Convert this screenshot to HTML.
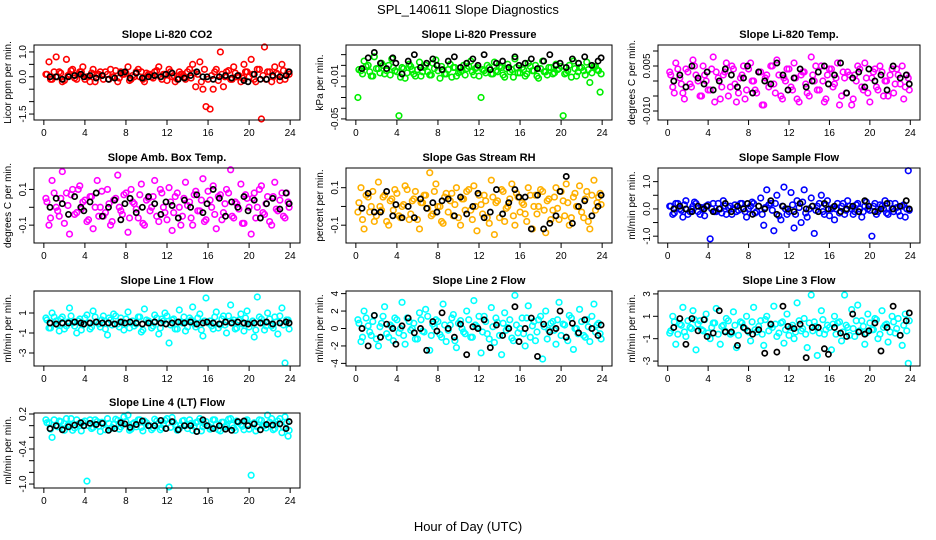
<!DOCTYPE html>
<html><head><meta charset="utf-8"><style>
html,body{margin:0;padding:0;background:#fff;}
svg{display:block;font-family:"Liberation Sans",sans-serif;}
</style></head><body>
<svg id="chart" width="936" height="540" viewBox="0 0 936 540" xmlns="http://www.w3.org/2000/svg">
<rect width="936" height="540" fill="#fff"/>
<text x="468" y="14" text-anchor="middle" font-size="13">SPL_140611  Slope Diagnostics</text>
<text x="468" y="531" text-anchor="middle" font-size="13">Hour of Day (UTC)</text>
</svg>
<script>
const hoursColor=[0.2,0.5,0.8,1.2,1.5,1.8,2.2,2.5,2.8,3.2,3.5,3.8,4.2,4.5,4.8,5.2,5.5,5.8,6.2,6.5,6.8,7.2,7.5,7.8,8.2,8.5,8.8,9.2,9.5,9.8,10.2,10.5,10.8,11.2,11.5,11.8,12.2,12.5,12.8,13.2,13.5,13.8,14.2,14.5,14.8,15.2,15.5,15.8,16.2,16.5,16.8,17.2,17.5,17.8,18.2,18.5,18.8,19.2,19.5,19.8,20.2,20.5,20.8,21.2,21.5,21.8,22.2,22.5,22.8,23.2,23.5,23.8];
const hoursBand=[0.3,0.65,1.0,1.35,1.65,2.0,2.35,2.65,3.0,3.35,3.65,4.0,4.35,4.65,5.0,5.35,5.65,6.0,6.35,6.65,7.0,7.35,7.65,8.0,8.35,8.65,9.0,9.35,9.65,10.0,10.35,10.65,11.0,11.35,11.65,12.0,12.35,12.65,13.0,13.35,13.65,14.0,14.35,14.65,15.0,15.35,15.65,16.0,16.35,16.65,17.0,17.35,17.65,18.0,18.35,18.65,19.0,19.35,19.65,20.0,20.35,20.65,21.0,21.35,21.65,22.0,22.35,22.65,23.0,23.35,23.65,23.9];
const hoursBlack=[0.6,1.2,1.8,2.4,3.0,3.6,3.9,4.5,5.1,5.7,6.3,6.9,7.5,7.9,8.4,9.0,9.6,10.2,10.8,11.4,11.9,12.5,13.1,13.7,14.3,14.9,15.5,15.9,16.5,17.1,17.7,18.3,18.9,19.5,19.9,20.5,21.1,21.7,22.3,23.0,23.6,23.9];
const xTicks=[0,4,8,12,16,20,24];

const co2Color=[0.1,0.6,-0.1,0.8,0.2,-0.2,0.7,0.1,0.3,-0.1,0.2,0.4,0.0,-0.2,0.3,0.1,0.2,-0.1,0.1,0.3,0.0,-0.2,0.2,0.1,0.4,-0.1,0.0,0.3,0.2,-0.2,0.1,0.0,0.2,0.4,-0.1,0.1,0.3,0.0,-0.2,0.2,0.1,-0.1,0.3,0.5,-0.4,0.6,-0.5,-1.2,-1.3,-0.5,0.3,1.0,-0.4,0.2,-0.1,0.4,0.0,-0.2,0.5,0.2,0.7,-0.1,0.3,-1.7,1.2,0.2,-0.2,0.4,0.1,0.5,-0.1,0.2];
const co2Band=[0.1,-0.1,0.2,0.0,0.15,-0.15,0.05,0.25,-0.05,0.1,0.2,-0.1,0.0,0.15,-0.2,0.1,0.05,0.2,-0.1,0.0,0.25,-0.05,0.1,0.15,-0.15,0.05,0.2,0.0,-0.1,0.15,0.1,-0.05,0.25,0.0,0.1,-0.15,0.2,0.05,-0.1,0.1,0.0,0.2,-0.05,0.15,0.1,-0.2,0.3,-0.1,0.05,0.2,-0.15,0.1,0.0,0.25,-0.1,0.15,0.05,-0.05,0.2,0.0,0.1,-0.2,0.3,0.05,-0.1,0.2,0.0,0.15,-0.15,0.25,0.05,0.1];
const co2Black=[0.0,0.0,-0.1,0.0,0.05,0.1,0.0,0.05,-0.05,0.05,-0.1,-0.05,0.15,0.2,-0.05,0.15,-0.05,0.0,0.05,0.0,0.1,0.15,-0.1,-0.05,0.05,0.2,0.0,0.0,-0.1,0.0,0.05,-0.05,0.05,-0.15,-0.2,0.1,-0.1,-0.1,0.05,0.0,0.05,0.2];
const presColor=[-0.03,-0.005,0.004,0.0,-0.01,0.008,-0.003,0.002,-0.008,0.0,0.006,-0.005,-0.047,-0.002,-0.012,0.001,-0.004,-0.01,0.003,-0.006,0.0,-0.009,0.002,0.005,-0.012,-0.004,-0.008,0.001,-0.002,-0.01,-0.006,0.0,-0.003,0.004,-0.009,-0.002,-0.03,-0.005,0.0,-0.008,0.003,-0.006,-0.002,-0.011,0.001,-0.004,0.006,-0.007,-0.002,-0.01,0.002,-0.005,0.0,-0.012,0.004,-0.006,-0.002,-0.008,0.001,-0.003,-0.047,-0.007,0.0,0.004,-0.01,-0.002,-0.005,0.003,-0.016,-0.001,-0.004,-0.025];
const presBand=[-0.004,-0.008,-0.001,-0.006,-0.01,-0.003,-0.007,0.0,-0.005,-0.009,-0.002,-0.006,-0.011,-0.003,-0.007,-0.001,-0.008,-0.004,-0.01,-0.002,-0.006,-0.009,-0.003,-0.005,-0.001,-0.008,-0.004,-0.011,-0.002,-0.007,-0.005,-0.009,-0.001,-0.006,-0.003,-0.01,-0.004,-0.007,-0.002,-0.008,-0.005,-0.001,-0.009,-0.003,-0.006,-0.011,-0.002,-0.007,-0.004,-0.008,-0.001,-0.005,-0.01,-0.003,-0.006,-0.009,-0.002,-0.007,-0.004,-0.001,-0.008,-0.005,-0.011,-0.003,-0.006,-0.002,-0.009,-0.004,-0.007,-0.001,-0.005,-0.008];
const presBlack=[-0.003,0.007,0.012,0.002,-0.003,0.007,0.002,-0.008,0.004,0.01,-0.002,0.002,0.006,0.0,-0.004,0.004,0.008,-0.002,0.002,0.006,0.0,0.01,-0.004,0.002,0.004,-0.002,0.008,0.0,0.002,0.006,-0.003,0.004,0.01,0.0,0.002,-0.002,0.006,0.002,0.008,0.0,0.004,0.007];
const tempColor=[0.003,-0.002,0.006,0.001,-0.004,0.004,-0.001,0.007,0.002,-0.005,0.005,0.0,-0.003,0.008,0.003,-0.006,0.002,0.006,-0.002,0.004,-0.007,0.001,0.005,-0.003,0.006,0.0,-0.004,0.003,-0.008,0.002,0.005,-0.001,0.007,-0.005,0.001,0.004,-0.002,0.006,-0.006,0.002,0.003,-0.004,0.008,0.0,-0.003,0.005,-0.007,0.002,0.004,-0.001,0.006,-0.005,0.001,0.003,-0.008,0.002,0.005,-0.002,0.006,-0.004,0.001,0.004,-0.003,0.003,0.0,-0.005,0.004,-0.001,0.002,0.005,-0.002,0.001];
const tempBand=[0.002,-0.004,0.004,-0.001,-0.006,0.003,-0.002,0.005,0.0,-0.005,0.002,-0.003,0.004,-0.007,0.001,-0.002,0.003,-0.005,0.005,-0.001,-0.004,0.002,-0.006,0.004,0.0,-0.003,0.003,-0.008,0.001,-0.002,0.005,-0.004,0.002,-0.006,0.0,0.004,-0.003,0.001,-0.007,0.003,-0.001,-0.005,0.002,0.005,-0.003,0.0,-0.006,0.004,-0.002,0.001,-0.008,0.003,-0.004,0.002,-0.006,0.0,0.004,-0.003,0.001,-0.007,0.003,-0.002,0.005,-0.005,0.0,0.002,-0.004,0.004,-0.001,-0.006,0.002,-0.003];
const tempBlack=[0.0,0.002,-0.002,0.005,0.001,-0.001,0.003,-0.003,0.0,0.004,0.002,-0.002,0.001,0.005,-0.004,0.003,0.0,-0.001,0.006,0.002,-0.003,0.001,0.004,-0.002,0.0,0.003,0.005,-0.001,0.002,0.006,-0.004,0.001,0.003,-0.002,0.004,0.0,0.002,-0.003,0.005,0.001,0.002,-0.001];
const ambColor=[0.05,-0.1,0.15,0.0,-0.05,0.2,0.08,-0.15,0.1,-0.03,0.12,0.03,-0.08,0.06,-0.12,0.15,0.0,-0.05,0.1,-0.1,0.04,0.18,-0.02,0.07,-0.14,0.1,0.02,-0.06,0.13,-0.1,0.05,0.0,0.15,-0.08,0.08,-0.03,0.11,-0.13,0.06,0.0,-0.05,0.14,0.03,-0.1,0.09,-0.02,0.16,-0.07,0.04,0.12,-0.12,0.07,-0.03,0.1,0.21,-0.06,0.02,0.13,-0.09,0.05,-0.15,0.08,0.0,0.12,-0.04,0.06,-0.1,0.14,-0.02,0.08,-0.06,0.03];
const ambBand=[0.03,-0.06,0.08,-0.02,0.05,-0.09,0.01,0.07,-0.04,0.1,-0.01,0.04,-0.07,0.06,0.0,-0.05,0.09,-0.03,0.02,-0.08,0.05,0.0,-0.04,0.08,-0.06,0.03,-0.01,0.07,-0.09,0.04,-0.02,0.06,-0.05,0.1,0.0,-0.07,0.03,-0.03,0.08,-0.1,0.05,0.01,-0.06,0.07,-0.02,0.04,-0.08,0.09,0.0,-0.04,0.06,-0.07,0.02,0.08,-0.05,0.03,-0.01,-0.09,0.07,0.0,0.05,-0.06,0.1,-0.03,0.02,-0.08,0.06,-0.01,0.04,-0.05,0.08,0.0];
const ambBlack=[0.0,0.05,0.02,-0.04,0.06,0.0,-0.02,0.03,0.08,-0.05,0.0,0.04,-0.07,0.02,0.05,-0.03,0.0,0.06,0.02,-0.04,0.03,0.01,-0.06,0.04,0.0,0.07,-0.03,0.02,0.1,0.05,-0.05,0.03,0.0,0.06,-0.02,0.04,-0.06,0.02,0.05,-0.01,0.08,0.02];
const rhColor=[-0.03,0.1,-0.12,0.05,0.0,-0.08,0.13,-0.02,0.06,-0.1,0.04,0.09,-0.05,0.0,0.11,-0.07,0.03,0.08,-0.12,0.02,0.06,0.18,-0.04,0.12,0.0,-0.09,0.07,0.03,-0.05,0.1,-0.1,0.04,0.08,-0.02,0.11,-0.13,0.01,0.06,-0.06,0.14,-0.15,0.03,0.09,-0.08,0.0,0.12,-0.1,0.05,0.02,-0.04,0.1,-0.12,0.06,0.0,0.08,-0.14,0.04,-0.02,0.1,-0.07,0.03,0.12,-0.1,0.05,0.0,0.11,-0.06,0.08,-0.12,0.14,0.02,0.07];
const rhBand=[0.02,-0.07,0.06,-0.03,0.08,-0.05,0.0,0.05,-0.08,0.03,-0.02,0.07,-0.06,0.01,0.09,-0.04,0.04,-0.07,0.02,0.06,-0.01,-0.05,0.08,0.0,-0.08,0.05,-0.03,0.07,0.01,-0.06,0.04,-0.02,0.09,-0.07,0.0,0.06,-0.04,0.03,-0.09,0.05,0.02,-0.06,0.08,-0.01,0.04,-0.05,0.07,-0.03,0.01,-0.08,0.06,0.0,-0.04,0.09,-0.02,0.03,-0.07,0.05,-0.01,0.08,-0.05,0.02,-0.06,0.07,0.0,-0.03,0.04,-0.08,0.06,-0.02,0.05,0.01];
const rhBlack=[-0.01,0.07,-0.03,-0.03,0.08,-0.05,0.01,-0.06,0.0,-0.06,0.04,-0.01,0.02,-0.03,0.03,0.04,-0.05,0.05,-0.04,0.0,0.07,-0.06,-0.03,0.09,-0.04,0.02,0.09,0.05,0.05,-0.12,0.06,-0.12,-0.09,-0.05,0.08,0.16,-0.09,0.0,0.03,-0.05,0.0,0.06];
const sampColor=[0.1,-0.2,0.2,0.0,-0.3,0.3,-0.1,0.1,0.2,-0.2,0.0,0.1,-1.1,0.2,-0.1,0.0,0.3,-0.2,0.1,0.0,-0.1,0.2,0.0,-0.3,0.1,0.2,-0.1,0.4,-0.6,0.7,0.2,-0.8,0.5,-0.4,0.8,-0.2,0.6,-0.7,0.3,-0.5,0.7,-0.3,0.4,-0.9,0.1,0.5,-0.2,0.3,0.0,-0.4,0.2,0.1,-0.2,0.3,0.0,-0.1,0.2,-0.3,0.1,0.0,-1.0,0.2,-0.1,0.1,0.3,-0.2,0.0,0.2,-0.1,0.1,-0.3,1.4];
const sampBand=[0.1,-0.15,0.2,-0.05,0.15,-0.2,0.0,0.25,-0.1,0.05,-0.25,0.15,0.0,-0.1,0.2,-0.15,0.1,0.05,-0.2,0.15,-0.05,0.2,-0.1,0.0,0.25,-0.15,0.1,-0.2,0.05,0.15,-0.05,0.2,-0.25,0.1,0.0,-0.1,0.15,-0.2,0.05,0.25,-0.15,0.0,0.1,-0.05,0.2,-0.1,0.15,-0.25,0.05,0.0,-0.15,0.2,-0.05,0.1,-0.2,0.15,0.0,-0.1,0.25,-0.05,0.1,-0.2,0.15,0.0,-0.15,0.2,-0.1,0.05,-0.25,0.15,0.0,-0.05];
const sampBlack=[0.0,0.1,0.0,-0.1,0.1,0.0,0.1,-0.1,0.0,0.2,-0.1,0.1,0.0,0.2,-0.2,0.1,0.0,0.3,-0.2,0.1,0.0,-0.1,0.2,0.0,0.1,-0.1,0.2,0.0,0.1,-0.1,0.0,0.1,-0.1,0.3,0.1,-0.1,0.0,0.2,0.0,0.1,0.3,0.0];
const l1Color=[0.5,-0.5,1.0,0.2,-0.8,0.6,-0.3,1.5,0.0,-1.0,0.4,-0.2,0.8,-0.6,1.2,0.1,-0.4,0.7,-1.2,0.3,0.9,-0.1,0.5,-0.7,1.1,0.0,-0.3,0.6,-0.9,1.4,0.2,-0.5,0.8,-1.1,0.4,1.0,-2.0,0.3,-0.6,1.3,0.0,-0.8,0.5,1.6,-0.4,0.9,-1.3,2.5,0.2,-0.6,1.1,-0.2,0.7,-1.0,1.8,0.3,-0.5,0.9,-0.8,1.2,0.0,-1.4,2.6,0.4,-0.7,1.0,-0.3,0.6,-1.1,1.5,-4.0,0.3];
const l1Band=[0.3,-0.5,0.6,-0.2,0.4,-0.6,0.1,0.7,-0.3,0.2,-0.7,0.5,0.0,-0.4,0.6,-0.1,0.3,-0.6,0.5,-0.2,0.7,-0.4,0.1,0.4,-0.5,0.2,-0.1,0.6,-0.7,0.3,0.0,-0.3,0.5,-0.5,0.2,0.7,-0.2,0.4,-0.6,0.1,0.6,-0.4,0.3,-0.1,0.5,-0.7,0.2,0.0,-0.3,0.6,-0.5,0.4,-0.2,0.7,0.1,-0.6,0.3,-0.1,0.5,-0.4,0.2,-0.7,0.6,0.0,-0.3,0.4,-0.5,0.1,0.7,-0.2,0.3,-0.6];
const l1Black=[0.0,-0.1,0.0,0.0,0.1,0.0,-0.1,0.0,0.1,0.0,0.0,-0.1,0.1,0.0,0.1,0.0,-0.1,0.0,0.1,0.0,-0.1,0.0,0.1,0.0,0.1,-0.1,0.0,0.1,0.0,-0.1,0.1,0.0,0.1,0.0,-0.1,0.0,0.0,0.1,-0.1,0.0,0.1,0.0];
const l2Color=[1.0,-1.5,2.0,0.3,-0.8,1.5,-2.0,0.6,2.5,-1.0,0.2,1.2,-0.5,3.0,-1.8,0.8,0.0,-1.2,1.8,-0.3,2.2,-2.5,0.5,1.0,-0.7,2.8,-1.5,0.4,1.6,-2.2,0.9,-0.4,2.0,-1.0,3.2,0.2,-2.8,1.4,-0.6,2.4,-1.6,0.7,-3.0,1.8,0.1,-1.1,3.8,-0.5,1.2,-2.0,2.6,0.3,-1.4,1.0,-3.5,2.0,-0.2,0.8,-1.8,3.0,0.5,-1.0,1.5,-2.4,0.0,2.2,-0.8,1.0,-1.5,2.8,0.4,-0.6];
const l2Band=[0.6,-1.0,1.2,-0.4,0.8,-1.2,0.2,1.4,-0.6,0.4,-1.4,1.0,0.0,-0.8,1.2,-0.2,0.6,-1.2,1.0,-0.4,1.4,-0.8,0.2,0.8,-1.0,0.4,-0.2,1.2,-1.4,0.6,0.0,-0.6,1.0,-1.0,0.4,1.4,-0.4,0.8,-1.2,0.2,1.2,-0.8,0.6,-0.2,1.0,-1.4,0.4,0.0,-0.6,1.2,-1.0,0.8,-0.4,1.4,0.2,-1.2,0.6,-0.2,1.0,-0.8,0.4,-1.4,1.2,0.0,-0.6,0.8,-1.0,0.2,1.4,-0.4,0.6,-1.2];
const l2Black=[0.0,-2.0,1.5,-1.0,0.5,0.0,-1.8,0.3,1.2,-0.5,0.0,-2.5,0.8,-0.3,1.8,0.0,-1.0,0.5,-3.0,0.2,0.0,1.0,-2.2,0.4,-0.8,0.0,2.5,-1.5,0.0,1.2,-3.2,0.5,-0.4,0.0,2.0,-1.0,0.6,-0.5,1.0,0.0,-0.8,0.4];
const l3Color=[-0.5,1.0,-1.5,0.3,1.8,-0.8,0.0,1.5,-2.0,0.6,-0.3,1.2,-1.0,0.4,1.7,-1.5,0.2,0.8,-0.6,1.4,-1.8,0.5,0.0,1.0,-1.2,1.8,-0.4,0.6,-1.6,1.0,0.2,1.9,-0.8,0.4,-1.4,1.2,0.0,-1.0,2.2,-0.3,0.8,-1.8,2.9,0.5,-2.5,1.5,-0.6,0.2,-2.0,1.0,0.4,-1.2,2.9,0.0,1.6,-0.8,2.0,0.6,-1.5,1.2,-0.2,0.8,-1.0,1.5,0.2,-1.3,1.0,-0.5,0.8,-1.6,1.2,-3.2];
const l3Band=[-0.3,0.5,-0.6,0.2,-0.4,0.6,-0.1,0.7,0.3,-0.2,0.7,-0.5,0.0,0.4,-0.6,0.1,-0.3,0.6,-0.5,0.2,-0.7,0.4,-0.1,-0.4,0.5,-0.2,0.1,-0.6,0.7,-0.3,0.0,0.3,-0.5,0.5,-0.2,-0.7,0.2,-0.4,0.6,-0.1,-0.6,0.4,-0.3,0.1,-0.5,0.7,-0.2,0.0,0.3,-0.6,0.5,-0.4,0.2,-0.7,-0.1,0.6,-0.3,0.1,-0.5,0.4,-0.2,0.7,-0.6,0.0,0.3,-0.4,0.5,-0.1,-0.7,0.2,-0.3,0.6];
const l3Black=[0.0,0.8,-1.5,0.8,-0.3,0.7,-0.8,-0.5,1.5,-0.4,-0.4,-1.6,0.0,-0.3,-0.6,-0.2,-2.3,0.3,-2.2,1.9,0.1,-0.1,0.3,-2.7,0.0,0.0,-1.9,-2.4,0.0,-0.5,-0.8,1.2,-0.4,-0.6,-0.3,0.4,-2.1,0.0,1.9,-0.7,0.6,1.3];
const l4Color=[0.1,0.05,-0.2,0.0,0.08,-0.05,0.12,0.02,-0.08,0.1,0.0,0.06,-0.95,0.1,-0.03,0.07,-0.1,0.04,0.12,-0.05,0.02,0.09,-0.02,0.15,0.18,-0.06,0.05,0.1,-0.03,0.08,0.0,-0.07,0.11,0.04,-0.04,0.09,-1.05,0.14,0.02,-0.05,0.08,0.0,0.1,-0.08,0.05,0.12,-0.02,0.07,-0.06,0.1,0.03,-0.09,0.06,0.0,0.12,-0.04,0.08,0.02,-0.07,0.1,-0.85,0.05,-0.02,0.09,0.0,0.18,0.12,-0.05,0.08,-0.12,0.15,-0.18];
const l4Band=[0.05,-0.06,0.1,-0.02,0.07,-0.08,0.01,0.12,-0.04,0.03,-0.09,0.08,0.0,-0.05,0.1,-0.01,0.06,-0.07,0.04,-0.03,0.11,-0.06,0.02,0.07,-0.08,0.03,-0.02,0.1,-0.09,0.05,0.0,-0.04,0.08,-0.07,0.03,0.12,-0.03,0.06,-0.08,0.01,0.09,-0.05,0.04,-0.01,0.07,-0.09,0.03,0.0,-0.04,0.1,-0.07,0.06,-0.02,0.11,0.01,-0.08,0.05,-0.01,0.08,-0.06,0.03,-0.09,0.1,0.0,-0.04,0.06,-0.07,0.02,0.12,-0.03,0.05,-0.08];
const l4Black=[-0.05,0.0,-0.07,-0.02,0.01,0.05,0.0,0.04,0.02,0.04,-0.08,-0.05,0.05,0.03,-0.03,0.02,0.08,0.0,0.0,0.09,-0.05,0.07,-0.07,0.0,0.0,-0.1,0.1,0.0,-0.05,0.0,-0.06,-0.08,0.07,0.08,0.0,0.03,-0.07,0.02,0.01,0.03,-0.05,0.07];

const panels=[
 {name:"co2",title:"Slope Li-820 CO2",ylab:"Licor ppm per min.",col:0,row:0,color:"#ff0000",c:co2Color,d:co2Band,b:co2Black,ymin:-1.74,ymax:1.28,ticks:[-1.5,-1.0,-0.5,0.0,0.5,1.0],labels:["-1.5","","","0.0","","1.0"]},
 {name:"pressure",title:"Slope Li-820 Pressure",ylab:"kPa per min.",col:1,row:0,color:"#00ee00",c:presColor,d:presBand,b:presBlack,ymin:-0.051,ymax:0.019,ticks:[-0.05,-0.04,-0.03,-0.02,-0.01,0.0,0.01],labels:["-0.05","","","","-0.01","",""]},
 {name:"temp",title:"Slope Li-820 Temp.",ylab:"degrees C per min.",col:2,row:0,color:"#ff00ff",c:tempColor,d:tempBand,b:tempBlack,ymin:-0.013,ymax:0.012,ticks:[-0.01,-0.005,0,0.005,0.01],labels:["-0.010","","","0.005",""]},
 {name:"amb-box-temp",title:"Slope Amb. Box Temp.",ylab:"degrees C per min.",col:0,row:1,color:"#ff00ff",c:ambColor,d:ambBand,b:ambBlack,ymin:-0.2,ymax:0.22,ticks:[-0.1,0,0.1],labels:["-0.1","","0.1"]},
 {name:"gas-stream-rh",title:"Slope Gas Stream RH",ylab:"percent per min.",col:1,row:1,color:"#ffb000",c:rhColor,d:rhBand,b:rhBlack,ymin:-0.195,ymax:0.205,ticks:[-0.1,0,0.1],labels:["-0.1","","0.1"]},
 {name:"sample-flow",title:"Slope Sample Flow",ylab:"ml/min per min.",col:2,row:1,color:"#0000ff",c:sampColor,d:sampBand,b:sampBlack,ymin:-1.25,ymax:1.5,ticks:[-1,-0.5,0,0.5,1],labels:["-1.0","","0.0","","1.0"]},
 {name:"line1-flow",title:"Slope Line 1 Flow",ylab:"ml/min per min.",col:0,row:2,color:"#00ffff",c:l1Color,d:l1Band,b:l1Black,ymin:-4.3,ymax:3.2,ticks:[-3,-1,1],labels:["-3","-1","1"]},
 {name:"line2-flow",title:"Slope Line 2 Flow",ylab:"ml/min per min.",col:1,row:2,color:"#00ffff",c:l2Color,d:l2Band,b:l2Black,ymin:-4.3,ymax:4.3,ticks:[-4,-2,0,2,4],labels:["-4","-2","0","2","4"]},
 {name:"line3-flow",title:"Slope Line 3 Flow",ylab:"ml/min per min.",col:2,row:2,color:"#00ffff",c:l3Color,d:l3Band,b:l3Black,ymin:-3.44,ymax:3.26,ticks:[-3,-1,1,3],labels:["-3","-1","1","3"]},
 {name:"line4-flow",title:"Slope Line 4 (LT) Flow",ylab:"ml/min per min.",col:0,row:3,color:"#00ffff",c:l4Color,d:l4Band,b:l4Black,ymin:-1.068,ymax:0.217,ticks:[-1.0,-0.8,-0.6,-0.4,-0.2,0.0,0.2],labels:["-1.0","","","-0.4","","","0.2"]}
];
const colLeft=[34,346,658], colW=[266,266,262], rowTop=[45,168,291,413], H=75;
const NS="http://www.w3.org/2000/svg";
const svg=document.getElementById('chart');
function mk(tag,attrs,parent){const e=document.createElementNS(NS,tag);for(const k in attrs)e.setAttribute(k,attrs[k]);parent.appendChild(e);return e;}
panels.forEach(p=>{
 const L=colLeft[p.col],T=rowTop[p.row],W=colW[p.col];
 const sx=h=>L+(h+0.96)/25.92*W;
 const sy=v=>T+H-(v-p.ymin)/(p.ymax-p.ymin)*H;
 const g=mk('g',{},svg);
 
 
 const t=mk('text',{x:L+W/2,y:T-7,'text-anchor':'middle','font-size':11,'font-weight':'bold'},g);
 t.textContent=p.title;
 
 
 const yl=mk('text',{transform:`translate(${L-23},${T+H/2}) rotate(-90)`,'text-anchor':'middle','font-size':10},g);
 yl.textContent=p.ylab;
 
 
 const pts=mk('g',{},g);
 
 
 const nb=Math.min(hoursBand.length,p.d.length);
 for(let i=0;i<nb;i++){
  const c=mk('circle',{cx:sx(hoursBand[i]),cy:sy(p.d[i]),r:2.8,fill:'none',stroke:p.color,'stroke-width':1.6},pts);
  
  
 }
 const n=Math.min(hoursColor.length,p.c.length);
 for(let i=0;i<n;i++){
  const c=mk('circle',{cx:sx(hoursColor[i]),cy:sy(p.c[i]),r:2.8,fill:'none',stroke:p.color,'stroke-width':1.6},pts);
  
  
 }
 const m=Math.min(hoursBlack.length,p.b.length);
 for(let i=0;i<m;i++){
  const c=mk('circle',{cx:sx(hoursBlack[i]),cy:sy(p.b[i]),r:2.6,fill:'none',stroke:'#000','stroke-width':1.7},pts);
  
  
 }
 const box=mk('rect',{x:L,y:T,width:W,height:H,fill:'none',stroke:'#000','stroke-width':1},g);
 
 
 xTicks.forEach(h=>{
  mk('line',{x1:sx(h),x2:sx(h),y1:T+H,y2:T+H+5,stroke:'#000'},g);
  const tl=mk('text',{x:sx(h),y:T+H+16,'text-anchor':'middle','font-size':10},g);
  tl.textContent=h;
  
  
 });
 p.ticks.forEach((v,i)=>{
  mk('line',{x1:L-5,x2:L,y1:sy(v),y2:sy(v),stroke:'#000'},g);
  if(p.labels[i]){
   const tl=mk('text',{transform:`translate(${L-8},${sy(v)}) rotate(-90)`,'text-anchor':'middle','font-size':10},g);
   tl.textContent=p.labels[i];
   
   
  }
 });
});
</script>
</body></html>
